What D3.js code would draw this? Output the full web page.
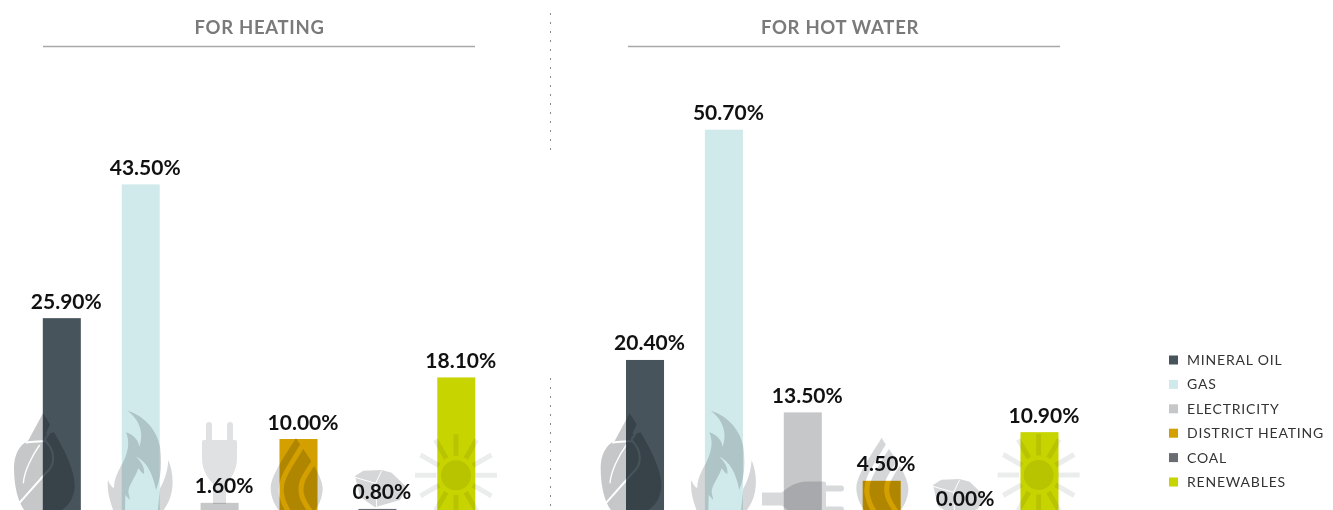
<!DOCTYPE html>
<html><head><meta charset="utf-8">
<script src="https://cdn.jsdelivr.net/npm/d3@7/dist/d3.min.js"></script>
<style>
html,body{margin:0;padding:0;background:#fff;overflow:hidden}
svg{display:block}
text{font-family:"Lato",sans-serif}
.icon{mix-blend-mode:multiply}
</style></head><body>
<script>
const categories = ["MINERAL OIL","GAS","ELECTRICITY","DISTRICT HEATING","COAL","RENEWABLES"];
const colors = ["#47545c","#d0eaeb","#c6c7c8","#d3a000","#696c72","#c8d400"];
const heatingValues = [25.9,43.5,1.6,10.0,0.8,18.1];
const hotWaterValues = [20.4,50.7,13.5,4.5,0.0,10.9];
const panelTitles = ["FOR HEATING","FOR HOT WATER"];

const W=1333,H=510;
const svg=d3.select("body").append("svg").attr("width",W).attr("height",H);
const y=d3.scaleLinear().domain([0,60]).range([515,515-60*7.6]);
const fmt=d=>d3.format(".2f")(d)+"%";
const panels=[
 {title:panelTitles[0],values:heatingValues,x0:42.8,x1:475.3},
 {title:panelTitles[1],values:hotWaterValues,x0:626,x1:1058.5}
];
// dividers
[[13,150],[378,510]].forEach(([a,b])=>svg.append("line").attr("x1",550.5).attr("x2",550.5).attr("y1",a).attr("y2",b)
  .attr("stroke","#8a8a8a").attr("stroke-width",1).attr("stroke-dasharray","2 7"));

const xs=panels.map(p=>d3.scaleBand().domain(categories).range([p.x0,p.x1]).paddingInner(0.518).paddingOuter(0));
panels.forEach((p,i)=>{
  const g=svg.append("g");
  const rx=i==0?[43,475]:[628,1060];
  const tx=i==0?259.5:840;
  g.append("line").attr("x1",rx[0]).attr("x2",rx[1]).attr("y1",46.5).attr("y2",46.5).attr("stroke","#a9a9a9").attr("stroke-width",1.5);
  g.append("text").attr("x",tx).attr("y",34).attr("text-anchor","middle")
    .attr("font-size",18.5).attr("font-weight",700).attr("letter-spacing",0.7).attr("fill","#7a7a7a").text(p.title);
  g.selectAll("rect.bar").data(p.values).join("rect").attr("class","bar")
    .attr("x",(d,j)=>xs[i](categories[j])).attr("width",xs[i].bandwidth())
    .attr("y",d=>y(d)).attr("height",d=>y(0)-y(d))
    .attr("fill",(d,j)=>colors[j]);
});

// pictograms
const icons=svg.append("g");
function z(tx,ty){return `translate(${tx},${ty}) scale(${1/3})`;}
function leaf(tx){
  const g=icons.append("g").attr("class","icon").attr("transform",z(tx,400)).append("g").attr("transform","translate(12,15)");
  g.append("path").attr("fill","#c6c7c9").attr("d","M117,25 L138,58 L125,88 L150,82 C175,125 212,190 212,240 C212,275 195,305 165,320 L65,320 C45,300 30,250 30,190 C30,150 45,120 72,108 Z");
  g.append("path").attr("fill","none").attr("stroke","#fff").attr("stroke-width",6).attr("d","M65,113 C85,110 105,110 125,108 C155,140 155,180 125,205 L45,295 M122,104 L140,78");
  g.append("path").attr("fill","none").attr("stroke","#fff").attr("stroke-width",4).attr("d","M107,120 C85,150 60,200 58,235");
}
function flame(tx){
  const g=icons.append("g").attr("class","icon").attr("transform",z(tx,400)).append("g").attr("transform","translate(300,15)").attr("fill","#d5d6d8");
  g.append("path").attr("d","M83,18 C125,28 170,70 180,125 C186,170 185,215 168,255 C162,220 145,170 108,155 C125,170 135,190 132,207 C125,205 120,195 115,190 C108,215 85,240 85,262 L90,285 L76,270 L75,330 L45,330 C30,290 20,260 24,225 C30,240 38,250 42,248 C42,215 60,190 70,170 C85,140 90,110 78,82 C100,88 115,105 118,125 C130,90 125,50 83,18 Z");
  g.append("path").attr("d","M205,165 C215,190 222,225 215,260 C210,290 195,310 180,330 L172,330 L180,250 C195,225 203,195 205,165 Z");
}
function plug(tf,fill){
  const g=icons.append("g").attr("class","icon").attr("transform",tf).attr("fill",fill);
  g.append("rect").attr("x",-13.5).attr("y",0).attr("width",6).attr("height",22).attr("rx",3);
  g.append("rect").attr("x",7.5).attr("y",0).attr("width",6).attr("height",22).attr("rx",3);
  g.append("path").attr("d","M-15.5,18 L15.5,18 Q17.5,18 17.5,20 L17.5,36 C17.5,50 10,58 6.5,62 L6.5,82 L-6.5,82 L-6.5,62 C-10,58 -17.5,50 -17.5,36 L-17.5,20 Q-17.5,18 -15.5,18 Z");
}
function drop(tx){
  const g=icons.append("g").attr("class","icon").attr("transform",z(tx,400));
  g.append("path").attr("fill","#d5d6d8").attr("d","M108,113 C122,140 188,220 188,265 C188,300 170,330 150,345 L70,345 C50,330 32,295 32,265 C32,225 80,160 108,113 Z");
  g.append("g").attr("fill","none").attr("stroke","#fff").attr("stroke-width",15).selectAll("path")
   .data(["M128,135 C90,200 55,240 65,285 C70,315 85,335 95,348","M165,180 C140,220 115,245 125,285 C130,310 150,330 160,348"]).join("path").attr("d",d=>d);
}
function coal(tx,ty){
  const g=icons.append("g").attr("class","icon").attr("transform",z(tx,ty));
  g.append("path").attr("fill","#d5d6d8").attr("d","M285,228 L310,212 L365,210 L395,218 L440,262 L420,300 L345,322 L300,290 Z");
  g.append("path").attr("fill","none").attr("stroke","#fff").attr("stroke-width",3).attr("d","M365,212 L347,250 L350,320 M347,250 L285,232");
}
function sun(cx,cy){
  const g=icons.append("g").attr("class","icon").attr("transform",`translate(${cx},${cy})`);
  g.append("circle").attr("r",15).attr("fill","#ebecec");
  g.selectAll("line").data(d3.range(12)).join("line")
   .attr("x1",19.5).attr("x2",41).attr("stroke","#ebecec").attr("stroke-width",5)
   .attr("transform",d=>`rotate(${d*30})`);
}
leaf(0); leaf(586.67);
flame(0); flame(583.3);
plug("translate(219.5,422)","#e0e1e3"); plug("translate(844,499) rotate(90)","#d8d9db");
drop(260); drop(845.7);
coal(260,400); coal(838,409);
sun(456,475.3); sun(1038.7,475);

// value labels on top
panels.forEach((p,i)=>{
  svg.append("g").selectAll("text").data(p.values).join("text")
    .attr("x",(d,j)=>xs[i](categories[j])+xs[i].bandwidth()/2+4.5)
    .attr("y",d=>y(d)-9.5).attr("text-anchor","middle")
    .attr("font-size",21).attr("font-weight",700).attr("fill","#111").text(fmt);
});

// legend
const ly=d3.scalePoint().domain(categories).range([360,482]);
const leg=svg.append("g").selectAll("g").data(categories).join("g").attr("transform",d=>`translate(1169,${ly(d)})`);
leg.append("rect").attr("x",0).attr("y",-4.5).attr("width",9).attr("height",9).attr("fill",(d,i)=>colors[i]);
leg.append("text").attr("x",18).attr("y",5).attr("font-size",14).attr("letter-spacing",0.8).attr("fill","#333").text(d=>d);
</script>
</body></html>
